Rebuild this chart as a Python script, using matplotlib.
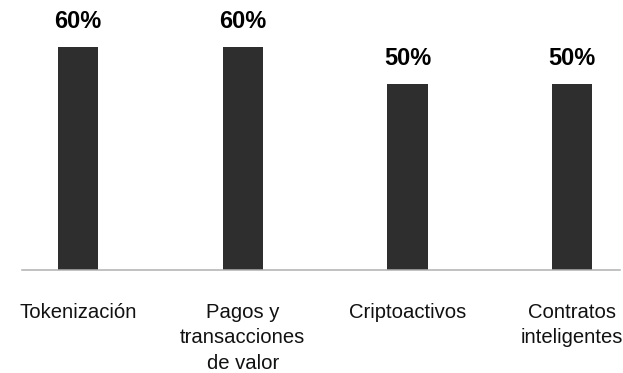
import matplotlib
matplotlib.use("Agg")
import matplotlib.pyplot as plt
from matplotlib.transforms import blended_transform_factory, offset_copy

categories = ["Tokenización", "Pagos y\ntransacciones\nde valor", "Criptoactivos", "Contratos\ninteligentes"]
values = [60, 60, 50, 50]
value_labels = ["60%", "60%", "50%", "50%"]

plt.rcParams["font.family"] = ["Liberation Sans", "DejaVu Sans"]

fig = plt.figure(figsize=(6.23, 3.73), dpi=100)
ax = fig.add_axes([22 / 623, (373 - 269.5) / 373, (620 - 22) / 623, 259.5 / 373])

x = list(range(len(categories)))
ax.bar(x, values, width=0.243, color="#2e2e2e", zorder=2)

ax.set_xlim(-0.34, 3.29)
ax.set_ylim(0, 70)

for s in ("top", "right", "left"):
    ax.spines[s].set_visible(False)
ax.spines["bottom"].set_color("#b0b0b0")
ax.spines["bottom"].set_linewidth(1.1)
ax.set_yticks([])
ax.set_xticks([])

for xi, v, lab in zip(x, values, value_labels):
    ax.annotate(lab, (xi, v), xytext=(0, 19 * 72 / 100), textcoords="offset points",
                ha="center", va="baseline", fontsize=17, fontweight="bold", color="#000000")

trans = blended_transform_factory(ax.transData, ax.transAxes)
trans = offset_copy(trans, fig=fig, x=0, y=-33.5 * 72 / 100, units="points")
for xi, lab in zip(x, categories):
    ax.text(xi, 0, lab, transform=trans, ha="center", va="top", fontsize=14.6,
            color="#111111", linespacing=1.42, multialignment="center")

fig.savefig("out.png", dpi=100)
